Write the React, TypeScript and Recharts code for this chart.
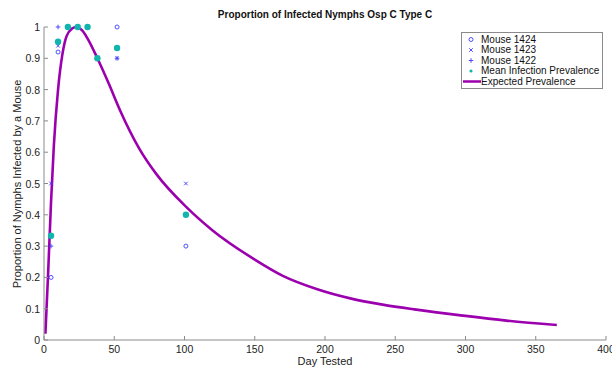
import React from 'react';
import { ComposedChart, Scatter, Line, XAxis, YAxis } from 'recharts';

// Test days and observed proportions
const testDays = [5, 10, 17, 24, 31, 38, 52, 101];
const mouse1424 = [0.2, 0.92, 1, 1, 1, 0.9, 1, 0.3];
const mouse1423 = [0.5, 0.94, 1, 1, 1, 0.9, 0.9, 0.5];
const mouse1422 = [0.3, 1, 1, 1, 1, 0.9, 0.9, 0.4];
const meanPrevalence = [0.333, 0.953, 1, 1, 1, 0.9, 0.933, 0.4];

// Expected prevalence curve
const curveDays = [1, 3, 5, 7, 10, 13, 16, 20, 23, 27, 32, 38, 46, 54, 68, 80, 101, 120, 150, 170, 194, 218, 241, 265, 298, 329, 365];
const curveValues = [0.02, 0.22, 0.44, 0.62, 0.8, 0.91, 0.97, 0.995, 1.0, 0.99, 0.955, 0.9, 0.82, 0.735, 0.61, 0.53, 0.426, 0.35, 0.257, 0.205, 0.163, 0.133, 0.113, 0.097, 0.078, 0.062, 0.048];

const xTicks = [0, 50, 100, 150, 200, 250, 300, 350, 400];
const yTicks = [0, 0.1, 0.2, 0.3, 0.4, 0.5, 0.6, 0.7, 0.8, 0.9, 1];

const toPoints = (vals: number[]) => testDays.map((d, i) => ({ x: d, y: vals[i] }));
const curveData = curveDays.map((d, i) => ({ x: d, y: curveValues[i] }));

const BLUE = '#3b3bff';
const TEAL = '#12b5ad';
const PURPLE = '#9c00ae';
const AXIS = '#8a8a8a';
const FONT = '"Liberation Sans", Arial, Helvetica, sans-serif';

const CircleMark = (p: any) => <circle cx={p.cx} cy={p.cy} r={2} fill="none" stroke={BLUE} strokeWidth={0.9} />;
const XMark = (p: any) => (
  <g stroke={BLUE} strokeWidth={0.9}>
    <line x1={p.cx - 1.8} y1={p.cy - 1.8} x2={p.cx + 1.8} y2={p.cy + 1.8} />
    <line x1={p.cx - 1.8} y1={p.cy + 1.8} x2={p.cx + 1.8} y2={p.cy - 1.8} />
  </g>
);
const PlusMark = (p: any) => (
  <g stroke={BLUE} strokeWidth={0.9}>
    <line x1={p.cx - 2.3} y1={p.cy} x2={p.cx + 2.3} y2={p.cy} />
    <line x1={p.cx} y1={p.cy - 2.3} x2={p.cx} y2={p.cy + 2.3} />
  </g>
);
const DotMark = (p: any) => <circle cx={p.cx} cy={p.cy} r={3.2} fill={TEAL} stroke="none" />;

const XTick = (p: any) => (
  <g>
    <line x1={p.x} x2={p.x} y1={p.y} y2={p.y - 4} stroke={AXIS} />
    <text x={p.x} y={p.y + 13} textAnchor="middle" fontSize={10.5} fontFamily={FONT} fill="#222">
      {p.payload.value}
    </text>
  </g>
);
const YTick = (p: any) => (
  <g>
    <line x1={p.x} x2={p.x + 4} y1={p.y} y2={p.y} stroke={AXIS} />
    <text x={p.x - 4} y={p.y + 4} textAnchor="end" fontSize={10.5} fontFamily={FONT} fill="#222">
      {Number(p.payload.value.toFixed(1)).toString()}
    </text>
  </g>
);

const legendItems = [
  { label: 'Mouse 1424', kind: 'o' },
  { label: 'Mouse 1423', kind: 'x' },
  { label: 'Mouse 1422', kind: '+' },
  { label: 'Mean Infection Prevalence', kind: 'dot' },
  { label: 'Expected Prevalence', kind: 'line' },
];

const LegendIcon = ({ kind, cy }: { kind: string; cy: number }) => {
  const cx = 9;
  if (kind === 'o') return <CircleMark cx={cx} cy={cy} />;
  if (kind === 'x') return <XMark cx={cx} cy={cy} />;
  if (kind === '+') return <PlusMark cx={cx} cy={cy} />;
  if (kind === 'dot') return <circle cx={cx} cy={cy} r={1.6} fill={TEAL} />;
  return <line x1={1} x2={19} y1={cy} y2={cy} stroke={PURPLE} strokeWidth={2.5} />;
};

export default function App() {
  return (
    <div style={{ position: 'absolute', left: 0, top: 0, width: 612, height: 367, background: '#fff', fontFamily: FONT }}>
      <ComposedChart width={612} height={367} margin={{ top: 27, right: 6, bottom: 0, left: 0 }}>
        <XAxis
          type="number"
          dataKey="x"
          domain={[0, 400]}
          ticks={xTicks}
          height={27}
          tickSize={0}
          tickMargin={0}
          tick={<XTick />}
          stroke={AXIS}
          interval={0}
        />
        <YAxis
          type="number"
          dataKey="y"
          domain={[0, 1]}
          ticks={yTicks}
          width={44}
          tickSize={0}
          tickMargin={0}
          tick={<YTick />}
          stroke={AXIS}
          interval={0}
        />
        <Scatter data={toPoints(mouse1424)} shape={<CircleMark />} isAnimationActive={false} />
        <Scatter data={toPoints(mouse1423)} shape={<XMark />} isAnimationActive={false} />
        <Scatter data={toPoints(mouse1422)} shape={<PlusMark />} isAnimationActive={false} />
        <Scatter data={toPoints(meanPrevalence)} shape={<DotMark />} isAnimationActive={false} />
        <Line data={curveData} dataKey="y" type="monotone" dot={false} activeDot={false} stroke={PURPLE} strokeWidth={2.6} isAnimationActive={false} />
      </ComposedChart>

      <div style={{ position: 'absolute', left: 0, width: 650, top: 9, textAlign: 'center', fontSize: 10, fontWeight: 'bold', color: '#111', lineHeight: '12px' }}>
        Proportion of Infected Nymphs Osp C Type C
      </div>
      <div style={{ position: 'absolute', left: 44, width: 562, top: 355, textAlign: 'center', fontSize: 11, color: '#222', lineHeight: '13px' }}>
        Day Tested
      </div>
      <div
        style={{
          position: 'absolute',
          left: 17,
          top: 184,
          transform: 'translate(-50%, -50%) rotate(-90deg)',
          whiteSpace: 'nowrap',
          fontSize: 11,
          color: '#222',
          lineHeight: '13px',
        }}
      >
        Proportion of Nymphs Infected by a Mouse
      </div>

      <div
        style={{
          position: 'absolute',
          left: 461,
          top: 32,
          width: 142,
          height: 57,
          border: `1px solid ${AXIS}`,
          background: '#fff',
          boxSizing: 'border-box',
        }}
      >
        <svg width={20} height={57} style={{ position: 'absolute', left: 0, top: 0 }}>
          {legendItems.map((it, i) => (
            <LegendIcon key={it.label} kind={it.kind} cy={6.5 + i * 10.5} />
          ))}
        </svg>
        {legendItems.map((it, i) => (
          <div
            key={it.label}
            style={{ position: 'absolute', left: 19, top: 0.5 + i * 10.5, fontSize: 10, lineHeight: '12px', color: '#111', whiteSpace: 'nowrap' }}
          >
            {it.label}
          </div>
        ))}
      </div>
    </div>
  );
}
